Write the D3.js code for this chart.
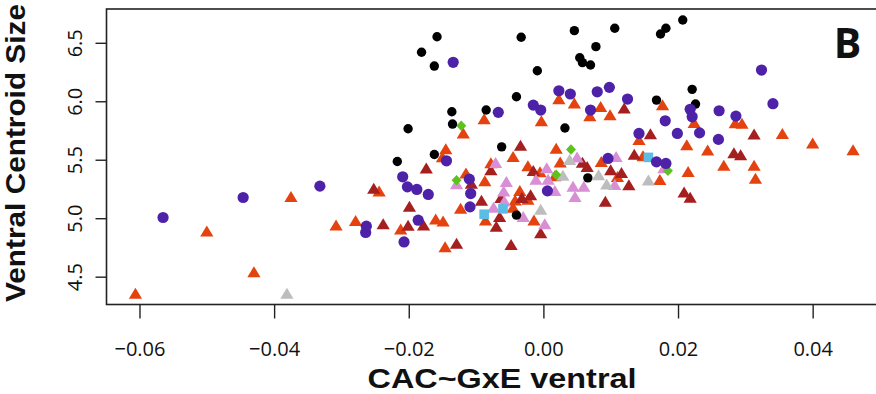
<!DOCTYPE html>
<html>
<head>
<meta charset="utf-8">
<script src="https://cdn.jsdelivr.net/npm/d3@7"></script>
<style>
  body { margin: 0; background: #fff; }
  svg { display: block; }
</style>
</head>
<body>
<svg id="chart" width="876" height="394"></svg>
<script>
// x = CAC~GxE ventral, y = ventral centroid size, one array per group
const orangePts = [
  [-0.0606,4.355],[-0.0500,4.889],[-0.0430,4.540],[-0.0375,5.182],[-0.0308,4.940],[-0.0279,4.977],
  [-0.0244,5.231],[-0.0145,5.591],[-0.0150,5.522],[-0.0212,4.906],[-0.0160,4.991],[-0.0149,4.974],
  [-0.0146,4.754],[-0.0088,5.848],[-0.0119,5.725],[-0.0003,5.830],[0.0023,6.019],[0.0046,5.982],
  [0.0069,5.873],[0.0085,5.953],[0.0099,5.882],[-0.0045,5.525],[0.0019,5.595],[0.0025,5.477],
  [-0.0078,5.471],[-0.0023,5.445],[-0.0005,5.394],[0.0017,5.360],[-0.0115,5.385],[-0.0087,5.317],
  [-0.0123,5.083],[-0.0035,5.234],[-0.0023,5.160],[-0.0042,5.154],[-0.0045,5.092],[-0.0014,4.983],
  [-0.0086,4.983],[0.0177,5.967],[0.0224,5.816],[0.0285,5.813],[0.0295,5.809],[0.0355,5.722],
  [0.0400,5.640],[0.0460,5.582],[0.0213,5.625],[0.0244,5.580],[0.0142,5.670],[0.0215,5.396],
  [0.0268,5.451],[0.0313,5.451],[0.0315,5.340],[0.0173,5.328],[0.0086,5.482],[0.0148,5.531],
  [0.0110,5.354]
];
const darkRedPts = [
  [-0.0174,5.426],[-0.0252,5.254],[-0.0199,5.100],[-0.0238,4.949],[-0.0201,4.938],[-0.0178,4.940],
  [-0.0129,4.783],[-0.0034,5.622],[-0.0078,5.411],[-0.0015,5.405],[-0.0107,5.297],[-0.0019,5.197],
  [-0.0092,5.150],[-0.0032,5.174],[-0.0065,5.011],[-0.0004,4.872],[-0.0070,4.929],[-0.0048,4.773],
  [0.0058,5.475],[0.0065,5.439],[0.0120,5.939],[0.0159,5.719],[0.0313,5.717],[0.0283,5.557],
  [0.0293,5.539],[0.0135,5.545],[0.0100,5.411],[0.0116,5.388],[0.0127,5.283],[0.0092,5.143],
  [0.0209,5.221],[0.0218,5.177],[-0.0063,5.175]
];
const pinkPts = [
  [-0.0129,5.291],[-0.0071,5.473],[-0.0055,5.311],[-0.0059,5.231],[-0.0074,5.092],[-0.0058,5.145],
  [-0.0030,5.011],[0.0002,4.949],[0.0005,5.428],[-0.0011,5.330],[0.0007,5.330],[0.0017,5.234],
  [0.0044,5.271],[0.0047,5.182],[0.0050,5.520],[0.0060,5.270],[0.0108,5.525],[0.0106,5.285],
  [0.0179,5.428]
];
const grayPts = [
  [-0.0381,4.355],[0.0039,5.499],[0.0029,5.364],[0.0082,5.368],[0.0094,5.289],[0.0156,5.325],
  [-0.0004,5.074]
];
const bluePts = [[-0.0088,5.034],[-0.0060,5.080],[0.0156,5.520]];
const greenPts = [[-0.0122,5.790],[0.0041,5.588],[0.0019,5.372],[-0.0129,5.325],[0.0185,5.405]];
const blackPts = [
  [-0.0158,6.552],[-0.0181,6.419],[-0.0162,6.301],[-0.0033,6.547],[0.0046,6.604],[0.0054,6.372],
  [0.0058,6.330],[0.0070,6.310],[0.0078,6.467],[-0.0009,6.261],[-0.0040,6.039],[-0.0136,5.910],
  [-0.0135,5.805],[-0.0085,5.925],[-0.0201,5.765],[0.0032,5.771],[-0.0062,5.610],[-0.0162,5.545],
  [-0.0217,5.485],[0.0066,5.345],[-0.0040,5.026],[0.0106,6.624],[0.0182,6.624],[0.0174,6.575],
  [0.0207,6.695],[0.0221,6.102],[0.0168,6.010],[0.0226,5.976]
];
const purplePts = [
  [-0.0565,5.006],[-0.0446,5.177],[-0.0332,5.274],[-0.0134,6.333],[-0.0067,5.905],[-0.0015,5.967],
  [-0.0004,5.925],[0.0023,6.090],[0.0040,6.062],[0.0070,5.925],[0.0080,6.081],[-0.0144,5.491],
  [-0.0209,5.354],[-0.0202,5.268],[-0.0188,5.246],[-0.0171,5.203],[-0.0110,5.334],[-0.0108,5.211],
  [-0.0109,5.097],[0.0006,5.234],[-0.0186,4.983],[-0.0263,4.932],[-0.0264,4.878],[-0.0207,4.797],
  [0.0324,6.267],[0.0341,5.979],[0.0098,6.119],[0.0125,6.019],[0.0218,5.931],[0.0221,5.867],
  [0.0261,5.919],[0.0286,5.873],[0.0181,5.833],[0.0142,5.725],[0.0199,5.725],[0.0232,5.730],
  [0.0260,5.674],[0.0096,5.511],[0.0168,5.482],[0.0182,5.468]
];

const xTicks = [-0.06, -0.04, -0.02, 0.00, 0.02, 0.04];
const yTicks = [4.5, 5.0, 5.5, 6.0, 6.5];

const series = [
  {pts: orangePts,  shape: 'tri',     color: '#E4420F'},
  {pts: darkRedPts, shape: 'tri',     color: '#A51F1F'},
  {pts: pinkPts,    shape: 'tri',     color: '#D98FD6'},
  {pts: grayPts,    shape: 'tri',     color: '#BDBDBD'},
  {pts: bluePts,    shape: 'square',  color: '#5BBDE4'},
  {pts: greenPts,   shape: 'diamond', color: '#5DC21E'},
  {pts: blackPts,   shape: 'circle',  color: '#000000', r: 4.7},
  {pts: purplePts,  shape: 'circle',  color: '#4E22A8', r: 5.6}
];

const font = "'Open Sans', 'DejaVu Sans', sans-serif";
const titleFont = "'Liberation Sans', Arial, sans-serif";
const svg = d3.select('#chart');

const x = d3.scaleLinear().domain([-0.0649, 0.0503]).range([106.5, 882]);
const y = d3.scaleLinear().domain([4.262, 6.789]).range([304.5, 9]);

// points
const shapes = {
  tri: 'M0,-5.8L6.6,5.2L-6.6,5.2Z',
  square: 'M-4.8,-4.8H4.8V4.8H-4.8Z',
  diamond: 'M0,-5.2L5,0L0,5.2L-5,0Z'
};

series.forEach(s => {
  const g = svg.append('g').attr('fill', s.color);
  if (s.shape === 'circle') {
    g.selectAll('circle')
      .data(s.pts)
      .join('circle')
        .attr('cx', d => x(d[0]))
        .attr('cy', d => y(d[1]))
        .attr('r', s.r);
  } else {
    g.selectAll('path')
      .data(s.pts)
      .join('path')
        .attr('d', shapes[s.shape])
        .attr('transform', d => `translate(${x(d[0])},${y(d[1])})`);
  }
});

// box
svg.append('rect')
  .attr('x', 106.5).attr('y', 9)
  .attr('width', 775.5).attr('height', 295.5)
  .attr('fill', 'none')
  .attr('stroke', '#222')
  .attr('stroke-width', 1.6);

// x axis
const xAxis = svg.append('g')
  .attr('transform', 'translate(0,304.5)')
  .call(d3.axisBottom(x).tickValues(xTicks).tickFormat(d3.format('.2f')).tickSize(14).tickSizeOuter(0));
xAxis.select('.domain').remove();
xAxis.selectAll('line').attr('stroke', '#222').attr('stroke-width', 1.4);
xAxis.selectAll('text')
  .attr('y', 51).attr('dy', null)
  .attr('fill', '#111')
  .style('font-family', font).style('font-size', '20px');

// y axis, labels parallel to the axis
const yAxis = svg.append('g')
  .attr('transform', 'translate(106.5,0)')
  .call(d3.axisLeft(y).tickValues(yTicks).tickFormat(d3.format('.1f')).tickSize(11).tickSizeOuter(0));
yAxis.select('.domain').remove();
yAxis.selectAll('line').attr('stroke', '#222').attr('stroke-width', 1.4);
yAxis.selectAll('text')
  .attr('x', null).attr('dy', null)
  .attr('text-anchor', 'middle')
  .attr('transform', 'translate(-24.5,0) rotate(-90)')
  .attr('fill', '#111')
  .style('font-family', font).style('font-size', '20px');

// titles
svg.append('text')
  .attr('x', 502).attr('y', 388)
  .attr('text-anchor', 'middle')
  .attr('textLength', 269).attr('lengthAdjust', 'spacingAndGlyphs')
  .attr('fill', '#111')
  .style('font-family', titleFont).style('font-weight', 700).style('font-size', '27px')
  .text('CAC~GxE ventral');

svg.append('text')
  .attr('transform', 'translate(25,153) rotate(-90)')
  .attr('text-anchor', 'middle')
  .attr('textLength', 298).attr('lengthAdjust', 'spacingAndGlyphs')
  .attr('fill', '#111')
  .style('font-family', titleFont).style('font-weight', 700).style('font-size', '27px')
  .text('Ventral Centroid Size');

svg.append('text')
  .attr('x', 847.5).attr('y', 58)
  .attr('text-anchor', 'middle')
  .attr('fill', '#111')
  .style('font-family', font).style('font-weight', 700).style('font-size', '41px')
  .text('B');
</script>
</body>
</html>
